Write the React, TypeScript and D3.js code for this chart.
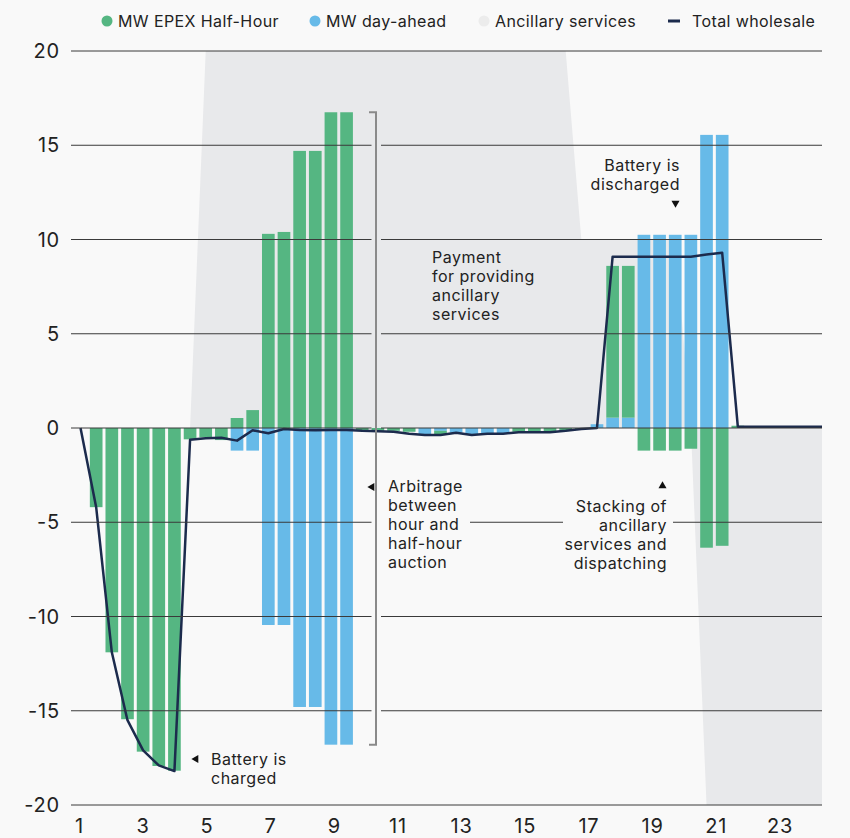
import React, { useEffect, useRef } from "react"
import * as d3 from "d3"

// 48 half-hour slots
const slots = d3.range(48)
const hourTicks = [1, 3, 5, 7, 9, 11, 13, 15, 17, 19, 21, 23]
const yTicks = [-20, -15, -10, -5, 0, 5, 10, 15, 20]

// MW EPEX Half-Hour
const epex = [
  0, -4.2, -11.9, -15.45, -17.17, -17.93, -18.18, -0.6, -0.5, -0.64,
  0.53, 0.95, 10.3, 10.4, 14.7, 14.7, 16.75, 16.75, -0.15, -0.15,
  -0.15, -0.2, 0, -0.2, 0, 0, 0, 0, -0.2, -0.2,
  -0.2, -0.15, -0.05, 0, 8.05, 8.05, -1.2, -1.2, -1.2, -1.1,
  -6.35, -6.25, 0.12, 0, 0, 0, 0, 0,
]

// MW day-ahead
const dayAhead = [
  0, 0, 0, 0, 0, 0, 0, 0, 0, 0,
  -1.2, -1.2, -10.45, -10.45, -14.8, -14.8, -16.8, -16.8, 0, 0,
  0, 0, -0.35, -0.15, -0.25, -0.35, -0.3, -0.3, 0, 0,
  0, 0, 0, 0.2, 0.55, 0.55, 10.25, 10.25, 10.25, 10.25,
  15.55, 15.55, 0, 0, 0, 0, 0, 0,
]

// Ancillary services (shaded band)
const ancillary = [
  0, 0, 0, 0, 0, 0, 0, 0, 20, 20,
  20, 20, 20, 20, 20, 20, 20, 20, 20, 20,
  20, 20, 20, 20, 20, 20, 20, 20, 20, 20,
  20, 20, 10, 10, 10, 10, 10, 10, 10, 0,
  -20, -20, -20, -20, -20, -20, -20, -20,
]

// Total wholesale
const total = [
  0, -4.2, -11.9, -15.5, -17.1, -17.9, -18.2, -0.62, -0.55, -0.52,
  -0.67, -0.12, -0.28, -0.05, -0.1, -0.12, -0.1, -0.1, -0.15, -0.17,
  -0.2, -0.3, -0.37, -0.37, -0.25, -0.37, -0.3, -0.3, -0.22, -0.22,
  -0.22, -0.15, -0.05, 0, 9.09, 9.09, 9.09, 9.09, 9.09, 9.09,
  9.2, 9.3, 0.07, 0.07, 0.07, 0.07, 0.07, 0.07,
]

const GREEN = "#55b682"
const BLUE = "#67bae8"
const SHADE = "#e8e9eb"
const NAVY = "#1c2b4d"
const BG = "#f9f9f9"
const INK = "#222222"
const FONT = "Inter, 'Noto Sans', sans-serif"

export default function App() {
  const ref = useRef<SVGSVGElement>(null)

  useEffect(() => {
    const W = 850
    const H = 838
    const plot = { left: 71, right: 822, top: 51, bottom: 805 }

    const svg = d3.select(ref.current)
    svg.selectAll("*").remove()
    svg.attr("width", W).attr("height", H).style("font-family", FONT)

    svg.append("rect").attr("width", W).attr("height", H).attr("fill", BG)

    // Scales
    const x = d3
      .scaleBand<number>()
      .domain(slots)
      .range([72.7, 823.9])
      .paddingInner(0.19)
      .paddingOuter(0.095)
    const xc = (i: number) => (x(i) as number) + x.bandwidth() / 2
    const xHour = d3.scaleLinear().domain([1, 23]).range([79.5, 780])
    const y = d3.scaleLinear().domain([-20, 20]).range([plot.bottom, plot.top])

    const defs = svg.append("defs")
    defs
      .append("clipPath")
      .attr("id", "plotClip")
      .append("rect")
      .attr("x", plot.left)
      .attr("y", plot.top)
      .attr("width", plot.right - plot.left)
      .attr("height", plot.bottom - plot.top)

    // gaps in the grid behind annotations
    const mask = defs.append("mask").attr("id", "gridGaps")
    mask.append("rect").attr("width", W).attr("height", H).attr("fill", "#fff")
    const gaps = [
      { x0: 371.5, x1: 381, y0: y(17.5), y1: y(-17.5) },
      { x0: 381, x1: 470, y0: y(-2.5), y1: y(-7.5) },
      { x0: 563, x1: 673, y0: y(-3.5), y1: y(-7.5) },
    ]
    mask
      .selectAll("rect.gap")
      .data(gaps)
      .enter()
      .append("rect")
      .attr("class", "gap")
      .attr("x", d => d.x0)
      .attr("y", d => d.y0)
      .attr("width", d => d.x1 - d.x0)
      .attr("height", d => d.y1 - d.y0)
      .attr("fill", "#000")

    const g = svg.append("g").attr("clip-path", "url(#plotClip)")

    // Ancillary services band
    const pts: [number, number][] = slots.map(i => [xc(i), ancillary[i]])
    pts.push([plot.right, ancillary[ancillary.length - 1]])
    g.append("path")
      .datum(pts)
      .attr("fill", SHADE)
      .attr(
        "d",
        d3
          .area<[number, number]>()
          .x(d => d[0])
          .y0(y(0))
          .y1(d => y(d[1]))
      )

    // Grid
    svg
      .append("g")
      .attr("mask", "url(#gridGaps)")
      .selectAll("line")
      .data(yTicks)
      .enter()
      .append("line")
      .attr("x1", plot.left)
      .attr("x2", plot.right)
      .attr("y1", d => y(d))
      .attr("y2", d => y(d))
      .attr("stroke", "#3a3a3a")
      .attr("stroke-width", 1)

    // Stacked bars (day-ahead nearest zero)
    const rows = slots.map(i => ({ slot: i, dayAhead: dayAhead[i], epex: epex[i] }))
    const stack = d3
      .stack<any>()
      .keys(["dayAhead", "epex"])
      .offset(d3.stackOffsetDiverging)
    const series = stack(rows)
    const colors: Record<string, string> = { dayAhead: BLUE, epex: GREEN }

    g.selectAll("g.series")
      .data(series)
      .enter()
      .append("g")
      .attr("class", "series")
      .attr("fill", d => colors[d.key])
      .selectAll("rect")
      .data(d => d)
      .enter()
      .append("rect")
      .attr("x", d => x(d.data.slot) as number)
      .attr("width", x.bandwidth())
      .attr("y", d => y(Math.max(d[0], d[1])))
      .attr("height", d => Math.abs(y(d[0]) - y(d[1])))

    // Total wholesale line
    const linePts: [number, number][] = slots.map(i => [xc(i), total[i]])
    linePts.push([plot.right, total[total.length - 1]])
    g.append("path")
      .datum(linePts)
      .attr("fill", "none")
      .attr("stroke", NAVY)
      .attr("stroke-width", 2.5)
      .attr("stroke-linejoin", "round")
      .attr(
        "d",
        d3
          .line<[number, number]>()
          .x(d => d[0])
          .y(d => y(d[1]))
      )

    // Bracket for arbitrage
    const bx = 376
    svg
      .append("path")
      .attr("fill", "none")
      .attr("stroke", "#8a8a8a")
      .attr("stroke-width", 2)
      .attr(
        "d",
        `M${bx - 7},${y(16.75)}H${bx}V${y(-16.8)}H${bx - 7}`
      )

    // Y axis labels
    svg
      .append("g")
      .selectAll("text")
      .data(yTicks)
      .enter()
      .append("text")
      .attr("x", 60)
      .attr("y", d => y(d))
      .attr("dy", "0.36em")
      .attr("text-anchor", "end")
      .attr("font-size", 20)
      .attr("letter-spacing", 0.8)
      .attr("fill", INK)
      .text(d => d)

    // X axis labels
    svg
      .append("g")
      .selectAll("text")
      .data(hourTicks)
      .enter()
      .append("text")
      .attr("x", d => xHour(d))
      .attr("y", 833)
      .attr("text-anchor", "middle")
      .attr("font-size", 20)
      .attr("letter-spacing", 0.8)
      .attr("fill", INK)
      .text(d => d)

    // Annotations
    const notes = [
      { x: 211, y: 765, anchor: "start", lines: ["Battery is", "charged"] },
      { x: 432, y: 263, anchor: "start", lines: ["Payment", "for providing", "ancillary", "services"] },
      { x: 388, y: 492, anchor: "start", lines: ["Arbitrage", "between", "hour and", "half-hour", "auction"] },
      { x: 680, y: 171, anchor: "end", lines: ["Battery is", "discharged"] },
      { x: 667, y: 512, anchor: "end", lines: ["Stacking of", "ancillary", "services and", "dispatching"] },
    ]
    const nt = svg
      .append("g")
      .selectAll("text")
      .data(notes)
      .enter()
      .append("text")
      .attr("x", d => d.x)
      .attr("y", d => d.y)
      .attr("text-anchor", d => d.anchor)
      .attr("font-size", 16)
      .attr("letter-spacing", 0.5)
      .attr("fill", INK)
    nt.selectAll("tspan")
      .data(d => d.lines.map(l => ({ l, x: d.x })))
      .enter()
      .append("tspan")
      .attr("x", d => d.x)
      .attr("dy", (d, i) => (i === 0 ? 0 : 19))
      .text(d => d.l)

    const arrows = [
      { x: 196, y: 759, rot: -90 },
      { x: 372, y: 487, rot: -90 },
      { x: 675.5, y: 203, rot: 180 },
      { x: 662.5, y: 486, rot: 0 },
    ]
    svg
      .append("g")
      .selectAll("path")
      .data(arrows)
      .enter()
      .append("path")
      .attr("d", d3.symbol(d3.symbolTriangle, 28)())
      .attr("transform", d => `translate(${d.x},${d.y}) rotate(${d.rot})`)
      .attr("fill", "#111")

    // Legend
    const legend = [
      { label: "MW EPEX Half-Hour", color: GREEN, x: 107, kind: "dot" },
      { label: "MW day-ahead", color: BLUE, x: 315, kind: "dot" },
      { label: "Ancillary services", color: "#ececec", x: 484, kind: "dot" },
      { label: "Total wholesale", color: NAVY, x: 674, kind: "dash" },
    ]
    const lg = svg
      .append("g")
      .selectAll("g")
      .data(legend)
      .enter()
      .append("g")
      .attr("transform", d => `translate(${d.x},21)`)
    lg.filter(d => d.kind === "dot")
      .append("circle")
      .attr("r", 5.5)
      .attr("fill", d => d.color)
    lg.filter(d => d.kind === "dash")
      .append("rect")
      .attr("x", -6)
      .attr("y", -1.5)
      .attr("width", 12)
      .attr("height", 3)
      .attr("fill", d => d.color)
    lg.append("text")
      .attr("x", d => (d.kind === "dot" ? 11 : 18))
      .attr("dy", "0.36em")
      .attr("font-size", 16)
      .attr("letter-spacing", 0.4)
      .attr("fill", INK)
      .text(d => d.label)
  }, [])

  return <svg ref={ref} style={{ position: "absolute", left: 0, top: 0 }} />
}
